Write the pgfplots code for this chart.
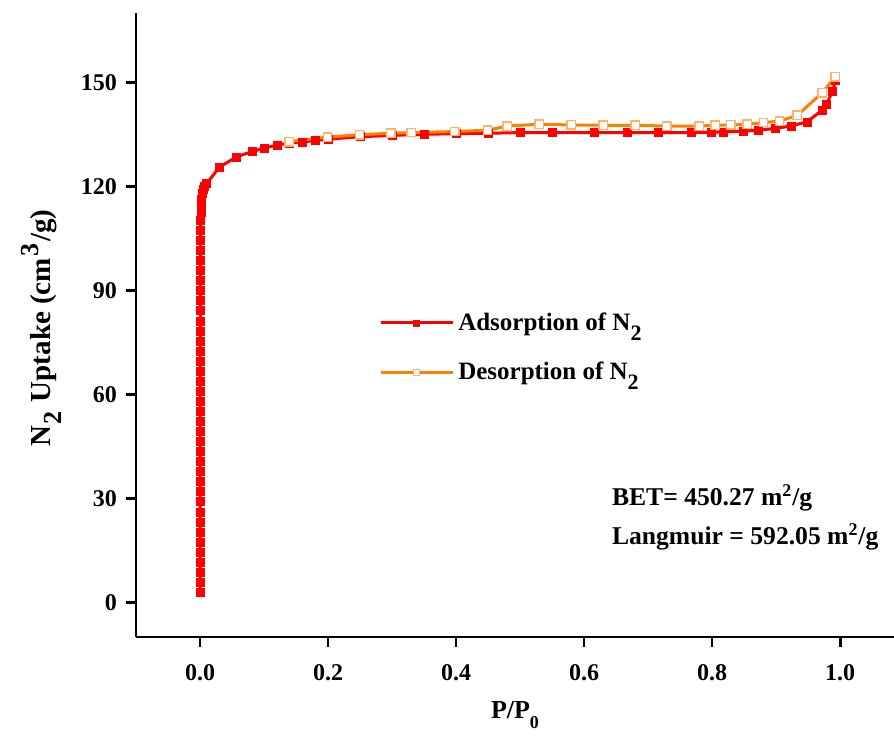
\documentclass[border=0pt]{standalone}
\usepackage{fontspec}
\setmainfont{Liberation Serif}
\usepackage{pgfplots}
\pgfplotsset{compat=1.18}
\usetikzlibrary{calc}

\definecolor{adsred}{RGB}{255,0,0}
\definecolor{desorange}{RGB}{255,128,0}
\definecolor{desedge}{RGB}{255,178,110}

% large, lowered subscript / raised superscript used in labels
\newcommand{\bsub}[1]{\raisebox{-5pt}{\fontsize{11}{11}\selectfont #1}}
\newcommand{\lsub}[1]{\kern0.8pt\raisebox{-5.5pt}{\fontsize{13}{13}\selectfont #1}\kern0.8pt\relax}
\newcommand{\lsup}[1]{\kern0.8pt\raisebox{6pt}{\fontsize{13}{13}\selectfont #1}\kern0.8pt\relax}

\pgfplotstableread{
P        V
0.00001  2.9
0.00002  5.8
0.00003  8.7
0.00004  11.6
0.00005  14.5
0.00006  17.4
0.00007  20.3
0.00008  23.2
0.00009  26.1
0.00010  29.0
0.00011  31.9
0.00012  34.8
0.00013  37.7
0.00014  40.6
0.00015  43.5
0.00016  46.4
0.00018  49.3
0.00020  52.2
0.00022  55.1
0.00024  58.0
0.00026  60.9
0.00028  63.8
0.00030  66.7
0.00033  69.6
0.00036  72.5
0.00039  75.4
0.00042  78.3
0.00045  81.2
0.00049  84.1
0.00053  87.0
0.00057  89.9
0.00062  92.8
0.00067  95.7
0.00073  98.6
0.00080  101.5
0.00088  104.4
0.00097  107.3
0.00110  110.2
0.00130  112.6
0.00180  114.6
0.00250  116.4
0.00350  117.9
0.00480  119.1
0.00700  120.1
0.01050  120.8
0.030    125.5
0.057    128.5
0.081    130.0
0.100    131.0
0.120    131.9
0.140    132.5
0.159    132.8
0.180    133.2
0.200    133.6
0.250    134.3
0.300    134.7
0.350    135.0
0.400    135.2
0.450    135.3
0.500    135.5
0.550    135.5
0.616    135.5
0.667    135.5
0.716    135.5
0.768    135.5
0.798    135.6
0.818    135.7
0.848    135.9
0.872    136.2
0.898    136.7
0.923    137.4
0.948    138.6
0.972    142.0
0.979    143.8
0.988    147.5
0.993    150.5
}\adsorption

\pgfplotstableread{
P        V
0.992    151.6
0.972    147.0
0.933    140.5
0.905    138.8
0.880    138.4
0.855    137.9
0.829    137.7
0.805    137.6
0.780    137.4
0.729    137.4
0.680    137.6
0.630    137.6
0.580    137.7
0.530    137.9
0.480    137.4
0.449    136.2
0.398    135.8
0.330    135.5
0.298    135.3
0.249    134.9
0.199    134.2
0.139    132.9
}\desorption

\begin{document}
\begin{tikzpicture}
\begin{axis}[
  name=main,
  scale only axis,
  width=379pt, height=312pt,
  xmin=-0.1, xmax=1.084,
  ymin=-10, ymax=170,
  axis lines=left,
  axis line style={-, line width=1.3pt},
  tick style={line width=1.3pt, black},
  tick align=outside,
  major tick length=5pt,
  xtick={0,0.2,0.4,0.6,0.8,1.0},
  ytick={0,30,60,90,120,150},
  minor tick num=0,
  /pgf/number format/assume math mode=true,
  tick label style={font=\bfseries\fontsize{12}{14}\selectfont},
  xticklabel style={/pgf/number format/fixed, /pgf/number format/fixed zerofill,
    /pgf/number format/precision=1, /tikz/yshift=-5pt},
  yticklabel style={/tikz/xshift=-1pt},
  xlabel={P/P\bsub{\fontsize{9}{9}\selectfont 0}},
  ylabel={N\lsub{2} Uptake (cm\lsup{3}/g)},
  every axis x label/.style={at={(axis description cs:0.5,-0.125)}, anchor=center,
    font=\bfseries\fontsize{13}{15}\selectfont},
  every axis y label/.style={at={(axis description cs:-0.125,0.495)}, rotate=90, anchor=center,
    font=\bfseries\fontsize{14.5}{16}\selectfont},
  legend style={at={(axis cs:0.27,86)}, anchor=north west, draw=none, fill=none,
    font=\bfseries\fontsize{12.5}{15}\selectfont, row sep=10.5pt,
    /tikz/every even column/.append style={column sep=3pt}},
  legend cell align=left,
  legend image code/.code={
    \draw[mark repeat=2, mark phase=2, mark size=1.5pt]
      plot coordinates {(0pt,0pt) (18pt,0pt) (36pt,0pt)};
  },
  clip=false,
]
\addplot[color=adsred, line width=1.5pt, mark=square*, mark size=2pt,
  mark options={fill=adsred, draw=adsred, line width=0.3pt}]
  table[x=P, y=V] {\adsorption};
\addlegendentry{Adsorption of N\bsub{2}}
\addplot[color=desorange, line width=1.5pt, mark=square*, mark size=2.1pt,
  mark options={fill=white, draw=desedge, line width=0.7pt}]
  table[x=P, y=V] {\desorption};
\addlegendentry{Desorption of N\bsub{2}}

\node[anchor=west, font=\bfseries\fontsize{12.8}{15}\selectfont, inner sep=0pt]
  at (axis cs:0.643,30.1) {BET= 450.27 m\textsuperscript{2}/g};
\node[anchor=west, font=\bfseries\fontsize{12.8}{15}\selectfont, inner sep=0pt]
  at (axis cs:0.643,18.8) {Langmuir = 592.05 m\textsuperscript{2}/g};
\end{axis}
\pgfresetboundingbox
\path[use as bounding box] ($(main.south west)+(-68pt,-50pt)$) rectangle ($(main.north east)+(0pt,6.5pt)$);
\end{tikzpicture}
\end{document}
